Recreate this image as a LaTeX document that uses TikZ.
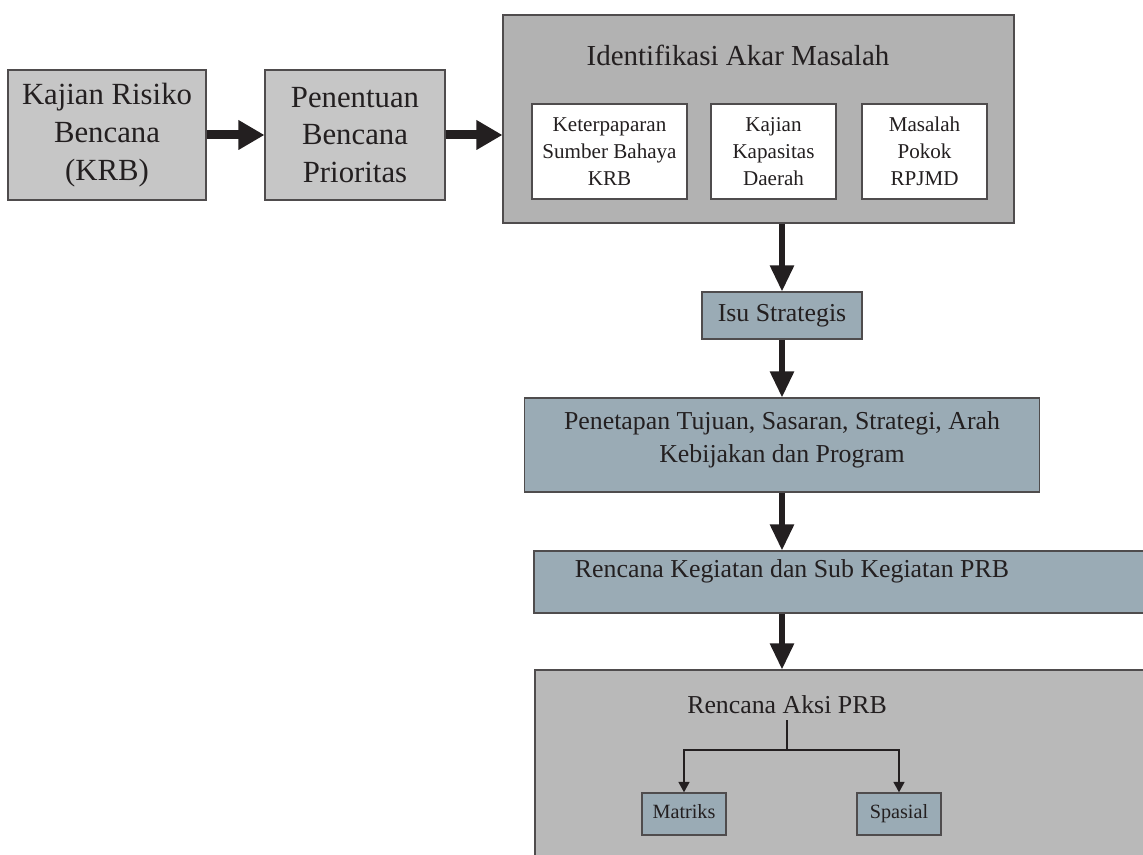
\documentclass[tikz,border=0pt]{standalone}
\usepackage{fontspec}
\setmainfont{Liberation Serif}
\usetikzlibrary{shapes,arrows.meta,positioning,calc}
\definecolor{ink}{HTML}{231F20}
\definecolor{grayA}{HTML}{C6C6C6}
\definecolor{grayB}{HTML}{B2B2B2}
\definecolor{grayC}{HTML}{B9B9B9}
\definecolor{steel}{HTML}{9AABB5}
\newcommand{\fbig}{\fontsize{17.5}{21.5}\selectfont}
\newcommand{\ftitle}{\fontsize{16.5}{20}\selectfont}
\newcommand{\fmid}{\fontsize{14.7}{19}\selectfont}
\newcommand{\fsmall}{\fontsize{12}{15.5}\selectfont}
\newcommand{\ftiny}{\fontsize{11.5}{14}\selectfont}
\tikzstyle{block} = [rectangle, draw=ink!80, fill=grayA, text=ink,
    align=center, inner sep=0pt, line width=0.6pt]
\tikzstyle{frame} = [block, fill=grayB]
\tikzstyle{sub} = [block, fill=white, minimum height=1.9cm, font=\fsmall]
\tikzstyle{plan} = [block, fill=steel]
\tikzstyle{leaf} = [plan, minimum width=1.68cm, minimum height=0.84cm,
    text height=8pt, text depth=2.6pt, font=\ftiny]
\tikzstyle{line} = [draw=ink, line width=0.11cm, -{Triangle[width=0.46cm,length=0.52cm]}]
\tikzstyle{hline} = [draw=ink, line width=0.18cm, -{Triangle[width=0.56cm,length=0.52cm]}]
\tikzstyle{tline} = [draw=ink, line width=1.6pt, -{Triangle[width=6pt,length=6pt]}]

\begin{document}
\begin{tikzpicture}[node distance = 2cm, auto]
    \path [use as bounding box, clip] (0,0) rectangle (22.86,-17.1);
    % Place nodes
    \node [block, minimum width=3.96cm, minimum height=2.6cm, font=\fbig] (krb) at (2.14,-2.70) {Kajian Risiko\\Bencana\\(KRB)};
    \node [block, right of=krb, node distance=4.96cm, minimum width=3.6cm, minimum height=2.6cm, font=\fbig] (tentu) {Penentuan\\Bencana\\Prioritas};
    \node [frame, minimum width=10.22cm, minimum height=4.16cm] (akar) at (15.17,-2.38) {};
    \node [text=ink, font=\ftitle] (akart) at (14.76,-1.1) {Identifikasi Akar Masalah};
    \node [sub, minimum width=2.5cm] (kapasitas) at (15.47,-3.03) {Kajian\\Kapasitas\\Daerah};
    \node [sub, left of=kapasitas, node distance=3.28cm, minimum width=3.1cm] (paparan) {Keterpaparan\\Sumber Bahaya\\KRB};
    \node [sub, right of=kapasitas, node distance=3.02cm, minimum width=2.5cm] (pokok) {Masalah\\Pokok\\RPJMD};
    \node [plan, minimum width=3.2cm, minimum height=0.94cm, font=\fmid] (isu) at (15.64,-6.31) {Isu Strategis};
    \node [plan, below of=isu, node distance=2.59cm, minimum width=10.3cm, minimum height=1.88cm, text depth=0.32cm, font=\fmid] (tetap) {Penetapan Tujuan, Sasaran, Strategi, Arah\\Kebijakan dan Program};
    \node [plan, minimum width=12.5cm, minimum height=1.24cm,
        label={[font=\fmid, text=ink, xshift=-1.09cm, yshift=0.22cm]center:Rencana Kegiatan dan Sub Kegiatan PRB}] (keg) at (16.93,-11.64) {};
    \node [block, fill=grayC, minimum width=12.4cm, minimum height=4cm] (aksi) at (16.9,-15.4) {};
    \node [text=ink, font=\fmid] (aksit) at (15.74,-14.1) {Rencana Aksi PRB};
    \coordinate (split) at (15.74,-15.0);
    \node [leaf] (matriks) at (13.68,-16.28) {Matriks};
    \node [leaf, right of=matriks, node distance=4.3cm] (spasial) {Spasial};
    % Draw edges
    \path [hline] (krb) -- (tentu);
    \path [hline] (tentu.east) -- (tentu.east -| akar.west);
    \path [line] (akar.south -| isu) -- (isu.north);
    \path [line] (isu) -- (tetap);
    \path [line] (tetap) -- (tetap.south |- keg.north);
    \path [line] (keg.south -| tetap) -- (aksi.north -| tetap);
    \draw [ink, line width=1.6pt] (aksit) -- (split);
    \path [tline] (split) -| (matriks);
    \path [tline] (split) -| (spasial);
\end{tikzpicture}
\end{document}
